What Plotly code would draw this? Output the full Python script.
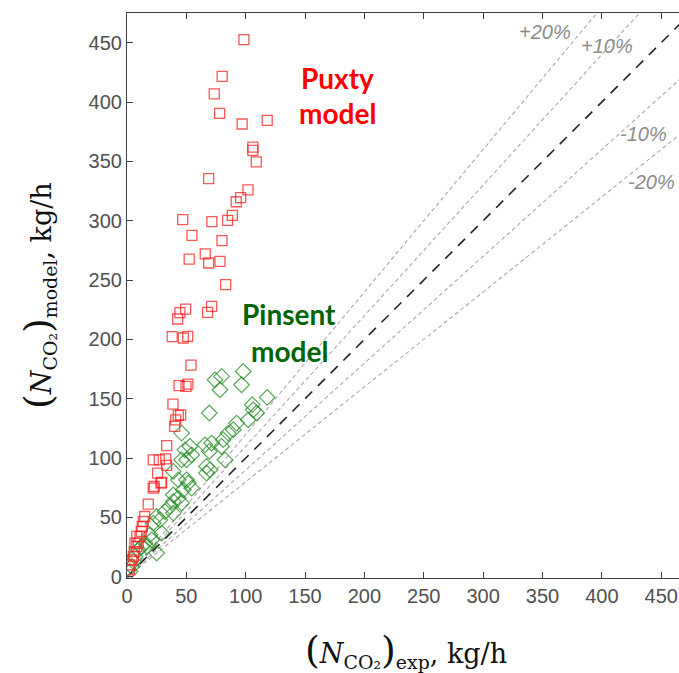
import plotly.graph_objects as go

# Puxty model (red squares)
puxty_exp = [98.5, 80.2, 73.5, 78, 97, 118.1, 106, 106, 108.9, 68.8, 101.9, 95.7, 92, 46.9, 71.5, 84.8, 88.7,
             54.7, 80, 52.4, 65.9, 68.8, 78.3, 83.1, 49.4, 44.6, 71.3, 67.9, 42.7, 38.1, 47.4, 51.1, 53.9,
             43.8, 49.7, 51.3, 38.7, 43.2, 41, 40.2, 45.2, 33.4, 32.6, 33.4, 28.6, 22.1, 27.2, 25.8, 29.2,
             23, 22.1, 17.9, 14.9, 13.7, 12.9, 12, 10.9, 9.5, 8.2, 6.1, 5.3, 4, 2.5, 2, 8.2, 6.7]
puxty_model = [452.6, 421.6, 406.8, 390.4, 381.5, 384.5, 362, 359.3, 349.5, 335.4, 326, 319.4, 316, 300.9,
               299.2, 300.3, 304.5, 287.6, 283.2, 267.7, 272, 264.4, 265.8, 246.1, 225.6, 222.5, 227.8,
               222.7, 217.2, 202.3, 201.2, 202.5, 178.4, 161, 160.4, 162.4, 145.5, 136, 132.3, 126.7, 136.5,
               110.6, 99.4, 93.8, 79, 98.6, 98.6, 87.4, 79.5, 76.1, 74.7, 61.3, 50.8, 46.6, 42.4, 38.2, 34,
               28.4, 25.5, 21.3, 17.1, 14.3, 10.1, 5.9, 34, 28.4]

# Pinsent model (green diamonds)
pinsent_exp = [74.1, 79.7, 78.3, 97.9, 96.5, 69.3, 105.5, 106.3, 118.1, 109.2, 102.1, 92.3, 89.5, 85.2, 81,
               79.7, 71.3, 65.7, 69.3, 82.5, 46, 53, 48.8, 54.5, 46, 50.2, 67, 69.9, 67, 39, 43.2, 51.6,
               54.5, 39, 47.4, 39, 43.2, 36.2, 32, 27.8, 25, 22.1, 29.2, 19.4, 15.2, 12.4, 9.5, 25, 6.7,
               5.3, 4, 2.5, 16.6, 20.8, 39, 46, 50.2]
pinsent_model = [166, 168.8, 157.6, 173, 161.8, 138, 145, 140.7, 151.1, 138, 132.3, 129.5, 123.9, 121.1,
                 115.5, 109.8, 112.7, 111.2, 105.6, 98.6, 121.1, 109.8, 107, 102.8, 98.6, 98.6, 93, 90.2,
                 87.4, 88.8, 81.7, 79, 74.7, 69.1, 73.3, 63.5, 66.3, 59.2, 55, 48, 50.8, 45.2, 36.8, 35.4,
                 28.4, 25.5, 22.8, 20, 17.1, 12.9, 8.7, 4.5, 25.5, 31.2, 53.6, 62.1, 81.7]

# deviation lines
ratios = [1.2, 1.1, 1.0, 0.9, 0.8]
ratio_labels = ["+20%", "+10%", None, "-10%", "-20%"]
label_x = [352, 404, None, 435, 442]
label_y = [459, 447, None, 373, 333]
line_x = [0, 500]

x_ticks = [0, 50, 100, 150, 200, 250, 300, 350, 400, 450]
y_ticks = [0, 50, 100, 150, 200, 250, 300, 350, 400, 450]

fig = go.Figure()

for r in ratios:
    if r == 1.0:
        fig.add_trace(go.Scatter(x=line_x, y=[v * r for v in line_x], mode="lines",
                                 line=dict(color="#222222", width=1.6, dash="10px,8px"),
                                 showlegend=False, hoverinfo="skip"))
    else:
        fig.add_trace(go.Scatter(x=line_x, y=[v * r for v in line_x], mode="lines",
                                 line=dict(color="#a8a8a8", width=1.1, dash="4px,3px"),
                                 showlegend=False, hoverinfo="skip"))

fig.add_trace(go.Scatter(x=pinsent_exp, y=pinsent_model, mode="markers",
                         marker=dict(symbol="diamond-open", size=12, color="rgba(34,139,34,0.75)",
                                     line=dict(width=1.2)),
                         showlegend=False))
fig.add_trace(go.Scatter(x=puxty_exp, y=puxty_model, mode="markers",
                         marker=dict(symbol="square-open", size=10, color="rgba(255,30,30,0.75)",
                                     line=dict(width=1.3)),
                         showlegend=False))

for lab, lx, ly in zip(ratio_labels, label_x, label_y):
    if lab:
        fig.add_annotation(x=lx, y=ly, text=lab, showarrow=False,
                           font=dict(family="Liberation Sans, Arial", size=20, color="#8c8c8c",
                                     style="italic"),
                           xanchor="center", yanchor="middle")


def px_x(p):
    return (p - 127) / 552


def px_y(p):
    return (578 - p) / 565


txt_font = dict(family="Lato, Open Sans", size=28, color="#ff0000", weight="bold")
fig.add_annotation(x=px_x(337), y=px_y(78), xref="paper", yref="paper", text="Puxty",
                   showarrow=False, font=txt_font, xanchor="center", yanchor="middle")
fig.add_annotation(x=px_x(337), y=px_y(113), xref="paper", yref="paper", text="model",
                   showarrow=False, font=txt_font, xanchor="center", yanchor="middle")
g_font = dict(family="Lato, Open Sans", size=28, color="#006400", weight="bold")
fig.add_annotation(x=px_x(289), y=px_y(314), xref="paper", yref="paper", text="Pinsent",
                   showarrow=False, font=g_font, xanchor="center", yanchor="middle")
fig.add_annotation(x=px_x(289), y=px_y(351), xref="paper", yref="paper", text="model",
                   showarrow=False, font=g_font, xanchor="center", yanchor="middle")

title_font = dict(family="DejaVu Serif, Liberation Serif", size=27, color="#111111")
paren_l = "<span style='font-size:38px'>(</span>"
paren_r = "<span style='font-size:38px'>)</span>"
fig.add_annotation(x=px_x(406), y=px_y(650), xref="paper", yref="paper",
                   text=paren_l + "<i>N</i><sub>CO₂</sub>" + paren_r + "<sub>exp</sub>, kg/h",
                   showarrow=False, font=title_font, xanchor="center", yanchor="middle")
fig.add_annotation(x=px_x(38), y=px_y(296), xref="paper", yref="paper",
                   text=paren_l + "<i>N</i><sub>CO₂</sub>" + paren_r + "<sub>model</sub>, kg/h",
                   textangle=-90,
                   showarrow=False, font=title_font, xanchor="center", yanchor="middle")

axis_common = dict(showgrid=False, zeroline=False, showline=True, linecolor="#404040", linewidth=1.2,
                   ticks="inside", ticklen=6, tickcolor="#404040",
                   tickfont=dict(family="Liberation Sans, Arial", size=20, color="#505050"))
fig.update_xaxes(range=[0, 465], tickvals=x_ticks, mirror="ticks", **axis_common)
fig.update_yaxes(range=[-1, 475], tickvals=y_ticks, mirror=False, **axis_common)

fig.update_layout(width=679, height=673, margin=dict(l=127, r=0, t=13, b=95),
                  plot_bgcolor="white", paper_bgcolor="white", showlegend=False)

fig.write_html("out.html")
